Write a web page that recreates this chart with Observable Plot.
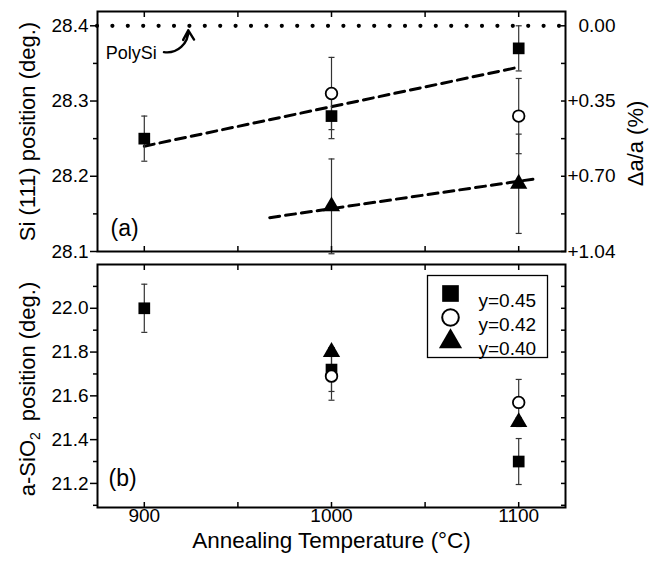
<!DOCTYPE html>
<html><head><meta charset="utf-8">
<script src="https://cdn.jsdelivr.net/npm/d3@7"></script>
<script src="https://cdn.jsdelivr.net/npm/@observablehq/plot@0.6"></script>
<style>body{margin:0;background:#fff;} #chart svg{display:block;}</style>
</head><body><div id="chart"></div>
<script>
// ---------- data ----------
const temps = [900, 1000, 1100];
const series = ["y=0.45", "y=0.42", "y=0.40"];
// (a) Si (111) peak position (deg.)
const siPos045 = [28.25, 28.28, 28.37];
const siErr045 = [0.03, 0.03, 0.03];
const siPos042 = [null, 28.31, 28.28];
const siErr042 = [null, 0.048, 0.05];
const siPos040 = [null, 28.16, 28.19];
const siErr040 = [null, 0.063, 0.066];
// (b) a-SiO2 peak position (deg.)
const oxPos045 = [22.00, 21.72, 21.30];
const oxErr045 = [0.11, 0.10, 0.105];
const oxPos042 = [null, 21.69, 21.57];
const oxErr042 = [null, 0.11, 0.105];
const oxPos040 = [null, 21.80, 21.48];
const oxErr040 = [null, 0.02, 0.02];
// dashed guide lines in (a)
const guideHighT = [900, 1100];
const guideHighPos = [28.24, 28.345];
const guideLowT = [967, 1110];
const guideLowPos = [28.145, 28.197];
const polySiPos = 28.4;
// tick labels
const xTicks = [900, 1000, 1100];
const xAllTicks = [900, 950, 1000, 1050, 1100];
const siTicks = [28.1, 28.2, 28.3, 28.4];
const siMinorTicks = [28.15, 28.25, 28.35];
const rightTickPos = [28.4, 28.3, 28.2, 28.1];
const rightTickLabels = ["0.00", "+0.35", "+0.70", "+1.04"];
const oxTicks = [21.2, 21.4, 21.6, 21.8, 22.0];
const oxMinorTicks = [21.1, 21.3, 21.5, 21.7, 21.9, 22.1];
// annotation anchors (data coordinates)
const polySiLabel = [{t: 893, v: 28.364, text: "PolySi"}];
const polySiArrow = [{t1: 910.5, v1: 28.365, t2: 923.5, v2: 28.394}];

// ---------- helpers ----------
const FONT = "'Liberation Sans', Arial, Helvetica, sans-serif";
function rows(pos, err, s) {
  return temps.map((t, i) => ({t, v: pos[i], e: err[i], s})).filter(d => d.v != null);
}
const siRows = [...rows(siPos045, siErr045, 0), ...rows(siPos042, siErr042, 1), ...rows(siPos040, siErr040, 2)];
const oxRows = [...rows(oxPos045, oxErr045, 0), ...rows(oxPos042, oxErr042, 1), ...rows(oxPos040, oxErr040, 2)];
const guideHigh = guideHighT.map((t, i) => ({t, v: guideHighPos[i]}));
const guideLow = guideLowT.map((t, i) => ({t, v: guideLowPos[i]}));
const rightTicks = rightTickPos.map((v, i) => ({v, label: rightTickLabels[i]}));

const capSymbol = {draw(ctx, size) { const w = Math.sqrt(size) / 2; ctx.moveTo(-w, 0); ctx.lineTo(w, 0); }};
const markerStyle = [
  {symbol: "square", fill: "black", stroke: "none", r: 6.6},
  {symbol: "circle", fill: "white", stroke: "black", strokeWidth: 1.8, r: 5.8},
  {symbol: "triangle", fill: "black", stroke: "none", r: 6.4}
];
const legendStyle = [
  {symbol: "square", fill: "black", stroke: "none", r: 9.4},
  {symbol: "circle", fill: "white", stroke: "black", strokeWidth: 2, r: 8.3},
  {symbol: "triangle", fill: "black", stroke: "none", r: 8.6}
];

function errorMarks(data) {
  return [
    Plot.ruleX(data, {x: "t", y1: d => d.v - d.e, y2: d => d.v + d.e, stroke: "#333", strokeWidth: 1.2}),
    Plot.dot(data, {x: "t", y: d => d.v - d.e, symbol: capSymbol, r: 3.4, stroke: "#333", fill: "none", strokeWidth: 1.2}),
    Plot.dot(data, {x: "t", y: d => d.v + d.e, symbol: capSymbol, r: 3.4, stroke: "#333", fill: "none", strokeWidth: 1.2})
  ];
}
function markerMarks(data) {
  return series.map((s, k) => Plot.dot(data.filter(d => d.s === k), {x: "t", y: "v", ...markerStyle[k]}));
}
const xDomain = [875, 1125];
const tickStyle = {fill: "none", stroke: "black", strokeWidth: 1.5, label: null};

// ---------- panel (a) ----------
const panelA = Plot.plot({
  width: 660, height: 258,
  marginLeft: 97, marginRight: 95, marginTop: 11, marginBottom: 7,
  style: {fontFamily: FONT, fontSize: "19px", color: "black", background: "white", overflow: "visible"},
  x: {domain: xDomain},
  y: {domain: [28.1, 28.419]},
  marks: [
    Plot.ruleY([polySiPos], {stroke: "black", strokeWidth: 4.2, strokeDasharray: "0,15.4", strokeLinecap: "round"}),
    Plot.line(guideHigh, {x: "t", y: "v", stroke: "black", strokeWidth: 3, strokeDasharray: "10,6"}),
    Plot.line(guideLow, {x: "t", y: "v", stroke: "black", strokeWidth: 3, strokeDasharray: "10,6"}),
    ...errorMarks(siRows),
    ...markerMarks(siRows),
    Plot.text(polySiLabel, {x: "t", y: "v", text: "text", fontSize: 18}),
    Plot.arrow(polySiArrow, {x1: "t1", y1: "v1", x2: "t2", y2: "v2", bend: -50, stroke: "black", strokeWidth: 2.4, headLength: 8}),
    Plot.text(["(a)"], {text: d => d, frameAnchor: "bottom-left", textAnchor: "start", dx: 13, dy: -16, fontSize: 23}),
    Plot.text(["Si (111) position (deg.)"], {text: d => d, frameAnchor: "left", textAnchor: "middle", rotate: -90, dx: -70, fontSize: 22}),
    Plot.text(["\u0394a/a (%)"], {text: d => d, frameAnchor: "right", textAnchor: "middle", rotate: -90, dx: 70, dy: 12, fontSize: 22}),
    Plot.text(rightTicks, {y: "v", text: "label", frameAnchor: "right", textAnchor: "end", dx: 50, fontSize: 19}),
    Plot.axisY({anchor: "left", ticks: siTicks, tickSize: 0, tickPadding: 9, label: null, tickFormat: d3.format(".1f")}),
    Plot.axisY({anchor: "left", ticks: siTicks, tickSize: 7, ...tickStyle}),
    Plot.axisY({anchor: "left", ticks: siMinorTicks, tickSize: 4, ...tickStyle}),
    Plot.axisY({anchor: "right", ticks: [...siTicks, ...siMinorTicks], tickSize: -5, ...tickStyle}),
    Plot.axisX({anchor: "top", ticks: xAllTicks, tickSize: -5, ...tickStyle}),
    Plot.axisX({anchor: "bottom", ticks: xAllTicks, tickSize: -5, ...tickStyle}),
    Plot.frame({stroke: "black", strokeWidth: 2})
  ]
});

// ---------- panel (b) ----------
const legendMarks = [
  Plot.frame({stroke: "black", strokeWidth: 1.3, insetLeft: 330, insetRight: 18, insetTop: 11, insetBottom: 150})
];
series.forEach((s, k) => {
  legendMarks.push(Plot.dot([s], {frameAnchor: "top-right", dx: -115, dy: 29 + k * 24, ...legendStyle[k]}));
  legendMarks.push(Plot.text([s], {text: d => d, frameAnchor: "top-right", textAnchor: "start", dx: -87, dy: 29 + k * 24, fontSize: 19}));
});

const panelB = Plot.plot({
  width: 660, height: 307,
  marginLeft: 97, marginRight: 95, marginTop: 6, marginBottom: 58,
  style: {fontFamily: FONT, fontSize: "19px", color: "black", background: "white", overflow: "visible"},
  x: {domain: xDomain},
  y: {domain: [21.09, 22.2]},
  marks: [
    ...errorMarks(oxRows),
    ...markerMarks(oxRows),
    ...legendMarks,
    Plot.text(["(b)"], {text: d => d, frameAnchor: "bottom-left", textAnchor: "start", dx: 11, dy: -22, fontSize: 23}),
    Plot.text(["a-SiO2 position (deg.)"], {text: d => d, frameAnchor: "left", textAnchor: "middle", rotate: -90, dx: -70, dy: 3, fontSize: 22}),
    Plot.text(["Annealing Temperature (\u00B0C)"], {text: d => d, frameAnchor: "bottom", textAnchor: "middle", dy: 40, fontSize: 22.5}),
    Plot.axisY({anchor: "left", ticks: oxTicks, tickSize: 0, tickPadding: 9, label: null, tickFormat: d3.format(".1f")}),
    Plot.axisY({anchor: "left", ticks: oxTicks, tickSize: 7, ...tickStyle}),
    Plot.axisY({anchor: "left", ticks: oxMinorTicks, tickSize: 4, ...tickStyle}),
    Plot.axisY({anchor: "right", ticks: [...oxTicks, ...oxMinorTicks], tickSize: -5, ...tickStyle}),
    Plot.axisX({anchor: "top", ticks: xAllTicks, tickSize: -5, ...tickStyle}),
    Plot.axisX({anchor: "bottom", ticks: xAllTicks, tickSize: -5, ...tickStyle}),
    Plot.axisX({anchor: "bottom", ticks: xTicks, tickSize: 0, tickPadding: 1, label: null, tickFormat: d3.format("d")}),
    Plot.frame({stroke: "black", strokeWidth: 2})
  ]
});

// subscript for SiO2
panelB.querySelectorAll("text").forEach(el => {
  if (el.textContent === "a-SiO2 position (deg.)") {
    el.textContent = "";
    const ns = "http://www.w3.org/2000/svg";
    const a = document.createElementNS(ns, "tspan"); a.textContent = "a-SiO";
    const b = document.createElementNS(ns, "tspan"); b.textContent = "2"; b.setAttribute("dy", "5"); b.setAttribute("font-size", "14");
    const c = document.createElementNS(ns, "tspan"); c.textContent = "\u2002position (deg.)"; c.setAttribute("dy", "-5");
    el.append(a, b, c);
  }
});

document.getElementById("chart").append(panelA, panelB);
</script>
</body></html>
